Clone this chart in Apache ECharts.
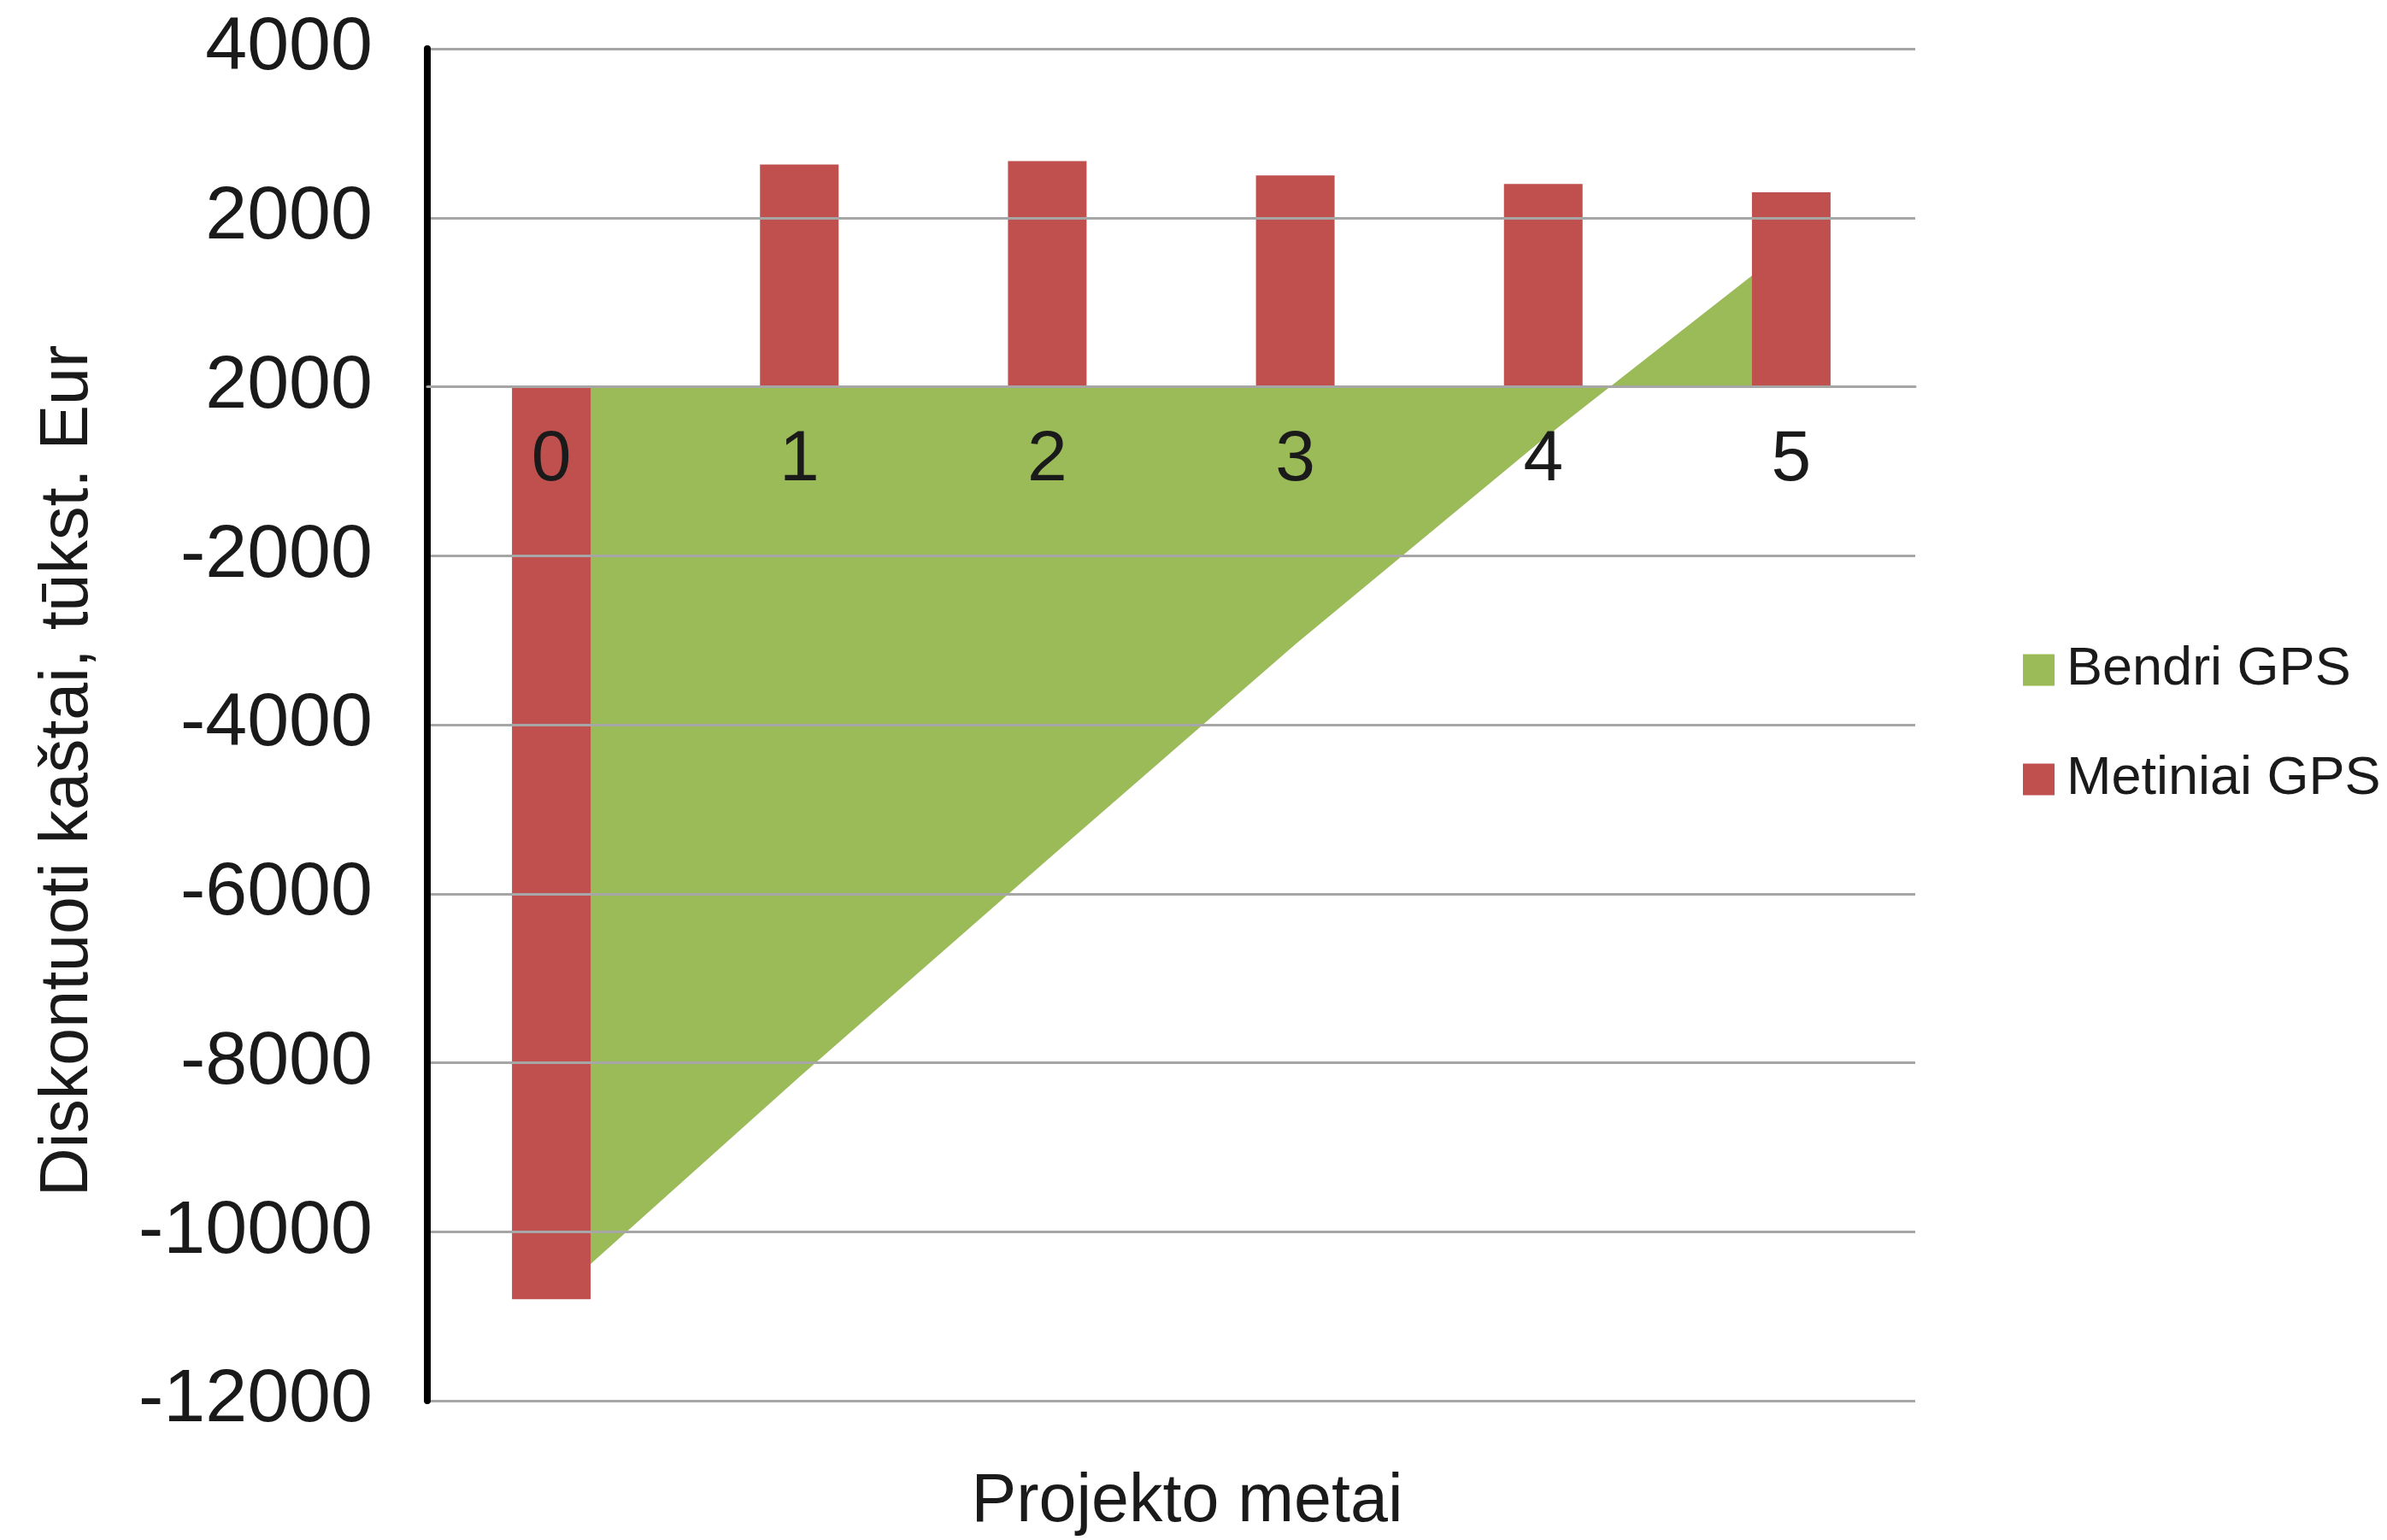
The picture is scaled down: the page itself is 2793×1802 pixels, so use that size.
<!DOCTYPE html>
<html>
<head>
<meta charset="utf-8">
<title>Diskontuoti kaštai</title>
<script src="https://cdn.jsdelivr.net/npm/echarts@6/dist/echarts.min.js"></script>
<style>
  html, body { margin: 0; padding: 0; background: #ffffff; }
  #chart { width: 2793px; height: 1802px; }
</style>
</head>
<body>
<div id="chart"></div>
<script>
// Project years (category axis)
const years = ['0', '1', '2', '3', '4', '5'];

// Yearly discounted cash flow, thousand EUR
const metiniaiGPS = [-10800, 2630, 2670, 2500, 2400, 2300];

// Cumulative discounted cash flow, thousand EUR
const bendriGPS = [-10800, -8170, -5600, -3050, -620, 1680];

// Value-axis ticks and the text printed beside each one
const yTickValues = [-12000, -10000, -8000, -6000, -4000, -2000, 0, 2000, 4000];
const yTickLabels = ['-12000', '-10000', '-8000', '-6000', '-4000', '-2000', '2000', '2000', '4000'];

const FONT = "'Liberation Sans', Arial, Helvetica, sans-serif";
const TEXT = '#1a1a1a';
const GREEN = '#9bbb59';
const RED = '#c0504d';

// Plot box in pixels
const GRID = { left: 500, right: 552, top: 57, bottom: 163 };
const Y_MIN = -12000, Y_MAX = 4000;
const plotHeight = 1802 - GRID.top - GRID.bottom;
// Lift the category axis from the bottom edge up to the zero line
const zeroOffset = -plotHeight * (0 - Y_MIN) / (Y_MAX - Y_MIN);

const chart = echarts.init(document.getElementById('chart'), null, { renderer: 'canvas' });

chart.setOption({
  backgroundColor: '#ffffff',
  animation: false,
  textStyle: { fontFamily: FONT, color: TEXT },
  grid: { left: GRID.left, right: GRID.right, top: GRID.top, bottom: GRID.bottom, containLabel: false },
  legend: {
    orient: 'vertical',
    left: 2362,
    top: 745,
    icon: 'rect',
    itemWidth: 37,
    itemHeight: 37,
    itemGap: 60,
    data: ['Bendri GPS', 'Metiniai GPS'],
    textStyle: { fontFamily: FONT, fontSize: 63, color: TEXT, lineHeight: 54, padding: [14, 0, 0, 9] }
  },
  xAxis: {
    type: 'category',
    data: years,
    boundaryGap: true,
    position: 'bottom',
    offset: zeroOffset,
    z: 5,
    axisLine: { show: true, onZero: false, lineStyle: { color: '#a6a6a6', width: 3 } },
    axisTick: { show: false },
    axisLabel: { fontFamily: FONT, fontSize: 84, color: TEXT, margin: 44 },
    splitLine: { show: false }
  },
  yAxis: {
    type: 'value',
    min: Y_MIN,
    max: Y_MAX,
    interval: 2000,
    z: 5,
    axisLine: { show: true, lineStyle: { color: '#000000', width: 8 } },
    axisTick: { show: false },
    axisLabel: {
      fontFamily: FONT,
      fontSize: 88,
      color: TEXT,
      margin: 64,
      formatter: function (v) {
        const i = yTickValues.indexOf(v);
        return i >= 0 ? yTickLabels[i] : '';
      }
    },
    splitLine: { show: true, lineStyle: { color: '#a6a6a6', width: 3 } }
  },
  graphic: [
    {
      type: 'text',
      x: 80,
      y: 902,
      rotation: Math.PI / 2,
      style: {
        text: 'Diskontuoti kaštai, tūkst. Eur',
        font: '79px ' + FONT,
        fill: TEXT,
        align: 'center',
        verticalAlign: 'middle'
      }
    },
    {
      type: 'text',
      x: 1389,
      y: 1758,
      style: {
        text: 'Projekto metai',
        font: '79px ' + FONT,
        fill: TEXT,
        align: 'center',
        verticalAlign: 'middle'
      }
    }
  ],
  series: [
    {
      name: 'Bendri GPS',
      type: 'line',
      data: bendriGPS,
      showSymbol: false,
      symbol: 'none',
      itemStyle: { color: GREEN },
      lineStyle: { width: 0, color: GREEN },
      areaStyle: { color: GREEN, opacity: 1, origin: 0 },
      z: 2
    },
    {
      name: 'Metiniai GPS',
      type: 'bar',
      data: metiniaiGPS,
      barWidth: 92,
      itemStyle: { color: RED },
      z: 3
    }
  ]
});
</script>
</body>
</html>
